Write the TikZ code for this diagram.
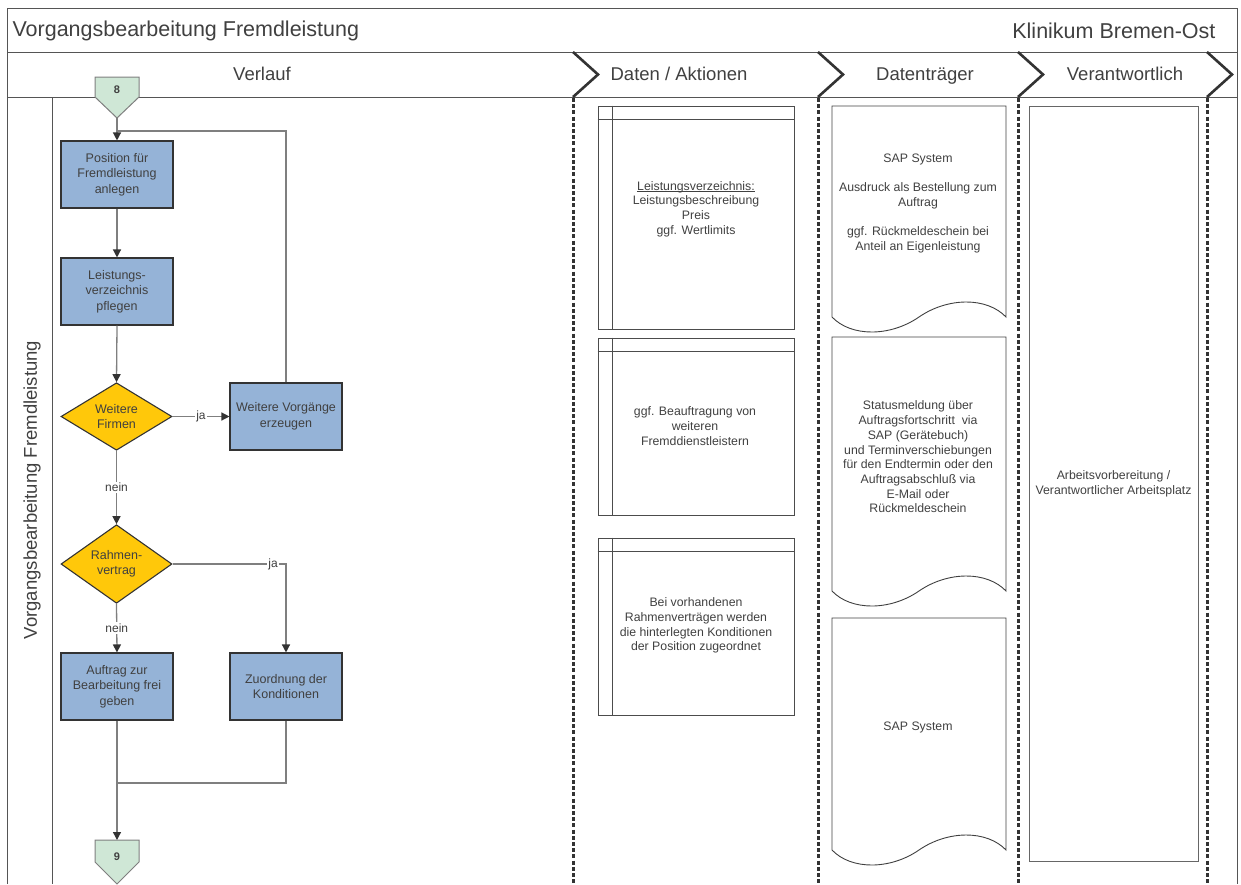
\documentclass[tikz,border=0pt]{standalone}
\usepackage{fontspec}
\setmainfont{Liberation Sans}
\usetikzlibrary{arrows.meta,shapes.geometric}
\definecolor{txt}{HTML}{404040}
\definecolor{procfill}{HTML}{95B3D7}
\definecolor{decfill}{HTML}{FFC80A}
\definecolor{connfill}{HTML}{CFE7D6}
\definecolor{flowline}{HTML}{7F7F7F}
\definecolor{frame}{HTML}{555555}
\definecolor{heavy}{HTML}{333333}
% underline sitting close to the baseline
\newcommand\ulbase[1]{\leavevmode\setbox0\hbox{#1}\rlap{\rule[-1.6pt]{\wd0}{0.6pt}}\box0}

\begin{document}
\begin{tikzpicture}[x=1pt,y=-1pt,
  proc/.style={draw=heavy, fill=procfill, line width=1.1pt, minimum width=112pt,
    minimum height=67pt, inner sep=2pt, align=center, text=txt,
    font=\fontsize{12.5}{15.5}\selectfont},
  dec/.style={diamond, draw=heavy, fill=decfill, line width=1.1pt, minimum width=111pt,
    minimum height=67pt, inner sep=0pt, align=center, text=txt,
    font=\fontsize{12.5}{15.5}\selectfont},
  conn/.style={draw=flowline, fill=connfill, line width=1pt},
  connlbl/.style={text=txt, font=\bfseries\fontsize{11}{13}\selectfont},
  flow/.style={draw=flowline, line width=1.3pt},
  arr/.style={flow, -{Triangle[length=8pt,width=8pt,color=heavy]}},
  lbl/.style={fill=white, inner sep=1.5pt, text=txt, font=\fontsize{12}{14}\selectfont},
  store/.style={draw=black!70, line width=0.9pt, minimum width=196pt, inner sep=0pt},
  small/.style={align=center, text=txt, font=\fontsize{12.3}{14.7}\selectfont},
  docline/.style={draw=black!75, line width=0.9pt},
  lanehead/.style={text=txt, font=\fontsize{18.5}{22}\selectfont, text height=13.5pt, text depth=4pt},
  frameline/.style={draw=frame, line width=1pt},
  chev/.style={draw=heavy, line width=2.6pt},
  sepline/.style={draw=heavy, line width=3pt, dash pattern=on 4pt off 2.2pt}
]
\useasboundingbox (0,0) rectangle (1241,884);

% frame and header rows
\draw[frameline] (7,884) -- (7,8) -- (1237,8) -- (1237,884);
\draw[frameline] (7,52) -- (1237,52);
\draw[frameline] (7,97) -- (1237,97);
\draw[frameline] (52,97) -- (52,884);

\node[anchor=west, text=txt, font=\fontsize{21.5}{26}\selectfont] (title) at (9,31) {Vorgangsbearbeitung Fremdleistung};
\node[anchor=east, text=txt, font=\fontsize{21.5}{26}\selectfont] (site) at (1219,31) {Klinikum Bremen-Ost};

\node[lanehead] (hverlauf) at (262,76) {Verlauf};
\node[lanehead] (hdaten) at (679,76) {Daten / Aktionen};
\node[lanehead] (htraeger) at (925,76) {Datenträger};
\node[lanehead] (hverantw) at (1125,76) {Verantwortlich};

\node[lanehead, rotate=90] (lane) at (32,490) {Vorgangsbearbeitung Fremdleistung};

% column separators: chevrons in the header, dotted lines below
\foreach \sx in {573,818,1018,1207}{
  \draw[chev, line join=miter] (\sx,52) -- (\sx+25,74.5) -- (\sx,97);
  \draw[sepline] (\sx,98) -- (\sx,884);
}

% off-page connectors
\path[conn] (95,77) -- (139,77) -- (139,97) -- (117,118) -- (95,97) -- cycle;
\node[connlbl] (c8) at (117,90) {8};
\coordinate (c8tip) at (117,118);
\path[conn] (95,840) -- (139,840) -- (139,862) -- (117,884) -- (95,862) -- cycle;
\node[connlbl] (c9) at (117,857) {9};
\coordinate (c9top) at (117,840);

% process steps
\node[proc] (pos) at (117,174.5) {Position für\\Fremdleistung\\anlegen};
\node[proc] (lv) at (117,291.5) {Leistungs-\\verzeichnis\\pflegen};
\node[dec] (firmen) at (116.5,416.5) {Weitere\\Firmen};
\node[proc] (weitere) at (286,416.5) {Weitere Vorgänge\\erzeugen};
\node[dec] (rahmen) at (116.5,564) {Rahmen-\\vertrag};
\node[proc] (frei) at (117,686.5) {Auftrag zur\\Bearbeitung frei\\geben};
\node[proc] (kond) at (286,686.5) {Zuordnung der\\Konditionen};

\coordinate (loop) at (117,131);
\coordinate (merge) at (117,783);

\draw[arr] (c8tip) -- (pos.north);
\draw[flow] (weitere.north) |- (loop);
\draw[arr] (pos.south) -- (lv.north);
\draw[arr] (lv.south) -- (firmen.north);
\draw[arr] (firmen.east) -- node[lbl] {ja} (weitere.west);
\draw[arr] (firmen.south) -- node[lbl] {nein} (rahmen.north);
\draw[arr] (rahmen.east) -| node[lbl, pos=0.443] {ja} (kond.north);
\draw[arr] (rahmen.south) -- node[lbl] {nein} (frei.north);
\draw[flow] (kond.south) |- (merge);
\draw[arr] (frei.south) -- (c9top);

% data / actions
\node[store, minimum height=223pt] (sa) at (696,217.5) {};
\node[store, minimum height=177pt] (sb) at (696,426.5) {};
\node[store, minimum height=177pt] (sc) at (696,626.5) {};
\foreach \s in {sa,sb,sc}{
  \draw[draw=black!70, line width=0.9pt] ([xshift=15pt]\s.north west) -- ([xshift=15pt]\s.south west);
  \draw[draw=black!70, line width=0.9pt] ([yshift=-14pt]\s.north west) -- ([yshift=-14pt]\s.north east);
}
\node[small] (ta) at (696,209) {\ulbase{Leistungsverzeichnis:}\\Leistungsbeschreibung\\Preis\\ggf. Wertlimits};
\node[small] (tb) at (695,426) {ggf. Beauftragung von\\weiteren\\Fremddienstleistern};
\node[small] (tc) at (696,625.5) {Bei vorhandenen\\Rahmenverträgen werden\\die hinterlegten Konditionen\\der Position zugeordnet};

% data carriers (document shapes)
\draw[docline] (832,317) -- (832,106) -- (1006,106) -- (1006,317)
  .. controls (987,297) and (948,297) .. (919,317)
  .. controls (890,337) and (851,337) .. (832,317) -- cycle;
\draw[docline] (832,591) -- (832,337) -- (1006,337) -- (1006,591)
  .. controls (987,571) and (948,571) .. (919,591)
  .. controls (890,611) and (851,611) .. (832,591) -- cycle;
\draw[docline] (832,850) -- (832,618) -- (1006,618) -- (1006,850)
  .. controls (987,830) and (948,830) .. (919,850)
  .. controls (890,870) and (851,870) .. (832,850) -- cycle;

\node[small] (d1) at (918,203.5) {SAP System\\[14.7pt]Ausdruck als Bestellung zum\\Auftrag\\[14.7pt]ggf. Rückmeldeschein bei\\Anteil an Eigenleistung};
\node[small] (d2) at (918,457) {Statusmeldung über\\Auftragsfortschritt\ \ via\\SAP (Gerätebuch)\\und Terminverschiebungen\\für den Endtermin oder den\\Auftragsabschluß via\\E-Mail oder\\Rückmeldeschein};
\node[small] (d3) at (918,727) {SAP System};

% responsibility
\node[draw=black!60, line width=1pt, minimum width=169pt, minimum height=755pt, small] (resp) at (1113.5,483.5) {Arbeitsvorbereitung /\\Verantwortlicher Arbeitsplatz};
\end{tikzpicture}
\end{document}
